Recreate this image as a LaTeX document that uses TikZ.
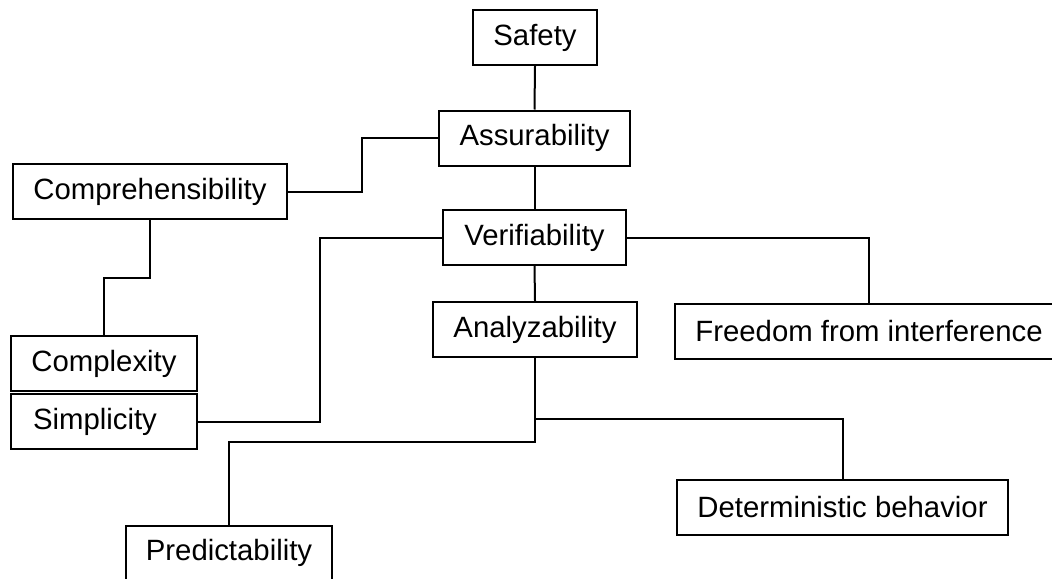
\documentclass[tikz,border=0pt]{standalone}
\usepackage{fontspec}
\setmainfont{Liberation Sans}
\begin{document}
\begin{tikzpicture}[x=0.75pt,y=-0.75pt,
  box/.style={draw, line width=1.5pt, rectangle, inner sep=0pt, minimum height=41.25pt, font=\fontsize{22}{26}\selectfont, fill=white},
  conn/.style={line width=1.5pt}]
\useasboundingbox (0,0) rectangle (1052,578);
\node[box, minimum width=93pt] (safety) at (535,37.5) {Safety};
\node[box, minimum width=143.25pt] (assur) at (534.5,138) {Assurability};
\node[box, minimum width=205.5pt] (compr) at (150,191.5) {Comprehensibility};
\node[box, minimum width=137.25pt] (verif) at (534.5,237.5) {Verifiability};
\node[box, minimum width=153pt] (analy) at (535,329.5) {Analyzability};
\node[box, minimum width=291pt] (free) at (869,331.5) {Freedom from interference};
\node[box, minimum width=139.5pt] (compl) at (104,363.5) {Complexity};
\node[box, minimum width=139.5pt, inner xsep=16.5pt, text width=106.5pt, align=left] (simp) at (104,421.5) {Simplicity};
\node[box, minimum width=248.25pt] (determ) at (842.5,507.5) {Deterministic behavior};
\node[box, minimum width=154.5pt] (pred) at (229,553) {Predictability};
\coordinate (j1) at (535,419);
\draw[conn] (safety.south) -- (assur.north);
\draw[conn] (assur.west) -- ++(-76,0) |- (compr.east);
\draw[conn] (assur.south) -- (verif.north);
\draw[conn] (verif.west) -- ++(-122,0) |- (simp.east);
\draw[conn] (verif.east) -| (free.north);
\draw[conn] (verif.south) -- (analy.north);
\draw[conn] (compr.south) -- ++(0,58) -| (compl.north);
\draw[conn] (analy.south) -- ++(0,84) -| (pred.north);
\draw[conn] (j1) -| (determ.north);
\end{tikzpicture}
\end{document}
